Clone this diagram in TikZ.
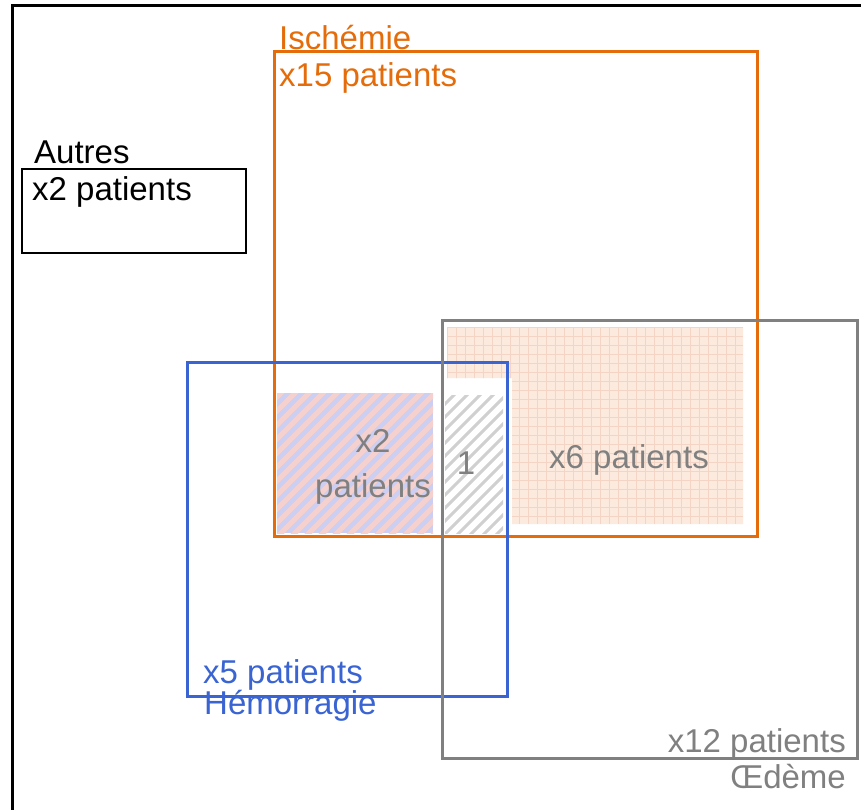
\documentclass[tikz,border=0pt]{standalone}
\usepackage{fontspec}
\setmainfont{Liberation Sans}
\definecolor{orangeC}{RGB}{228,108,10}
\definecolor{blueC}{RGB}{58,100,210}
\definecolor{grayC}{RGB}{128,128,128}
\definecolor{peach}{RGB}{252,234,222}
\definecolor{gridc}{RGB}{244,212,196}
\definecolor{lav}{RGB}{204,206,242}
\definecolor{pinkS}{RGB}{244,208,206}
\definecolor{hatchG}{RGB}{208,208,208}
\begin{document}
\begin{tikzpicture}[x=1pt,y=-1pt,
  lbl/.style={font=\fontsize{33}{38}\selectfont, inner sep=0pt},
  boxline/.style={line width=3pt}]
\useasboundingbox (0,0) rectangle (861,810);
\fill[white] (0,0) rectangle (861,810);
% pink grid region (L-shape)
\begin{scope}
  \clip (447,327) -- (743,327) -- (743,524) -- (512,524) -- (512,378) -- (447,378) -- cycle;
  \fill[peach] (440,320) rectangle (750,530);
  \foreach \x in {447,456,...,743} \draw[gridc, line width=0.6pt] (\x,327) -- (\x,524);
  \foreach \y in {327,336,...,524} \draw[gridc, line width=0.6pt] (447,\y) -- (743,\y);
\end{scope}
% purple striped region
\begin{scope}
  \clip (277,393) rectangle (433,533);
  \fill[lav] (277,393) rectangle (433,533);
  \foreach \s in {100,114,...,450} \draw[pinkS, line width=5pt] (\s,560) -- ++(200,-200);
\end{scope}
% gray hatched region
\begin{scope}
  \clip (445,395) rectangle (503,533);
  \foreach \s in {250,263,...,520} \draw[hatchG, line width=3pt] (\s,560) -- ++(200,-200);
\end{scope}
% boxes
\draw[orangeC, boxline] (274,52) rectangle (757,536);
\draw[blueC, boxline] (187,362) rectangle (507,696);
\draw[grayC, boxline] (442,320) rectangle (857,758);
\draw[black, line width=1.4pt] (22,169) rectangle (246,253);
% outer frame (top and left)
\draw[black, line width=3pt] (12,810) -- (12,6) -- (861,6);
% labels
\node[lbl, orangeC, anchor=base west] (isch) at (279,50) {Ischémie};
\node[lbl, orangeC, anchor=base west] (isch15) at (279,87) {x15 patients};
\node[lbl, black, anchor=base west] (autres) at (34,164) {Autres};
\node[lbl, black, anchor=base west] (autres2) at (32,201) {x2 patients};
\node[lbl, blueC, anchor=base west] (hem5) at (203,683) {x5 patients};
\node[lbl, blueC, anchor=base west] (hem) at (204,714) {Hémorragie};
\node[lbl, grayC, anchor=base east] (oed12) at (846,752) {x12 patients};
\node[lbl, grayC, anchor=base east] (oed) at (846,788) {Œdème};
\node[lbl, grayC, anchor=base] (six) at (629,468) {x6 patients};
\node[lbl, grayC, anchor=base] (twoa) at (373,452) {x2};
\node[lbl, grayC, anchor=base] (twob) at (373,497) {patients};
\node[lbl, grayC, anchor=base] (one) at (466,474) {1};
\end{tikzpicture}
\end{document}
